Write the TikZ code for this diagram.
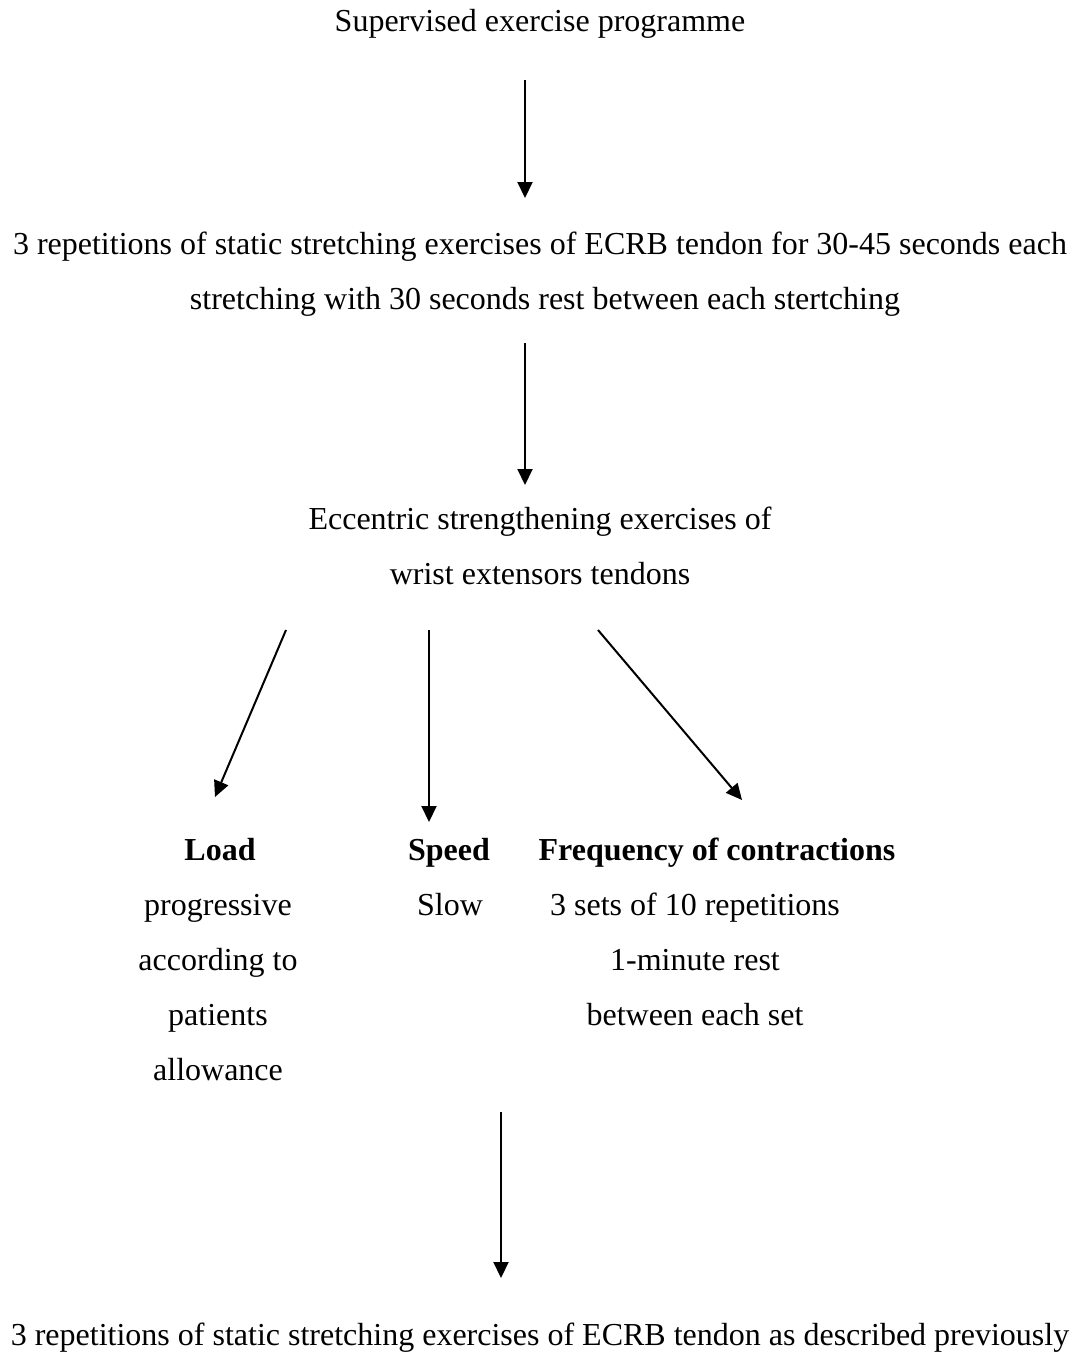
\documentclass[tikz,border=0pt]{standalone}
\usepackage{fontspec}
\setmainfont{Liberation Serif}
\usetikzlibrary{arrows.meta}

\begin{document}
\begin{tikzpicture}[x=0.5pt,y=-0.5pt,>={Triangle[length=8pt,width=7.5pt]},
  every node/.style={font=\fontsize{16}{27.5}\selectfont,align=center,inner sep=0pt},
  flow/.style={->,line width=1pt}]
  \useasboundingbox (0,0) rectangle (1081,1362);
  % stages of the programme (base = last line)
  \node[anchor=base] (title) at (540,31) {Supervised exercise programme};
  \node[anchor=base] (stretch) at (540,309)
    {3 repetitions of static stretching exercises of ECRB tendon for 30-45 seconds each\\
     \hspace*{5pt}stretching with 30 seconds rest between each stertching};
  \node[anchor=base] (ecc) at (540,584)
    {Eccentric strengthening exercises of\\wrist extensors tendons};
  % the three parameters
  \node[anchor=base] (loadhd) at (220,860) {\textbf{Load}};
  \node[anchor=base] (speedhd) at (449,860) {\textbf{Speed}};
  \node[anchor=base] (freqhd) at (717,860) {\textbf{Frequency of contractions}};
  \node[anchor=base] (loadtxt) at (218,1080)
    {progressive\\according to\\patients\\allowance};
  \node[anchor=base] (speedtxt) at (450,915) {Slow};
  \node[anchor=base] (freqtxt) at (695,1025)
    {3 sets of 10 repetitions\\1-minute rest\\between each set};
  \node[anchor=base] (final) at (540,1345)
    {3 repetitions of static stretching exercises of ECRB tendon as described previously};
  % arrow ends
  \coordinate (a1s) at (525,80);   \coordinate (a1e) at (525,198);
  \coordinate (a2s) at (525,343);  \coordinate (a2e) at (525,485);
  \coordinate (a3s) at (286,630);  \coordinate (a3e) at (215,797);
  \coordinate (a4s) at (429,630);  \coordinate (a4e) at (429,822);
  \coordinate (a5s) at (598,630);  \coordinate (a5e) at (742,800);
  \coordinate (a6s) at (501,1112); \coordinate (a6e) at (501,1278);
  \draw[flow] (a1s) -- (a1e);
  \draw[flow] (a2s) -- (a2e);
  \draw[flow] (a3s) -- (a3e);
  \draw[flow] (a4s) -- (a4e);
  \draw[flow] (a5s) -- (a5e);
  \draw[flow] (a6s) -- (a6e);
\end{tikzpicture}
\end{document}
